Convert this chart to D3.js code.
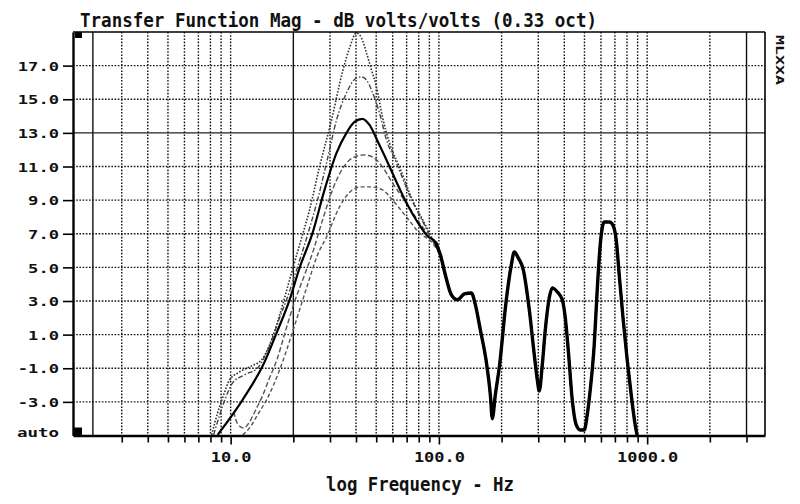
<!DOCTYPE html>
<html><head><meta charset="utf-8">
<script src="https://cdn.jsdelivr.net/npm/d3@7"></script>
<style>
html,body{margin:0;padding:0;background:#fff;}
svg{display:block;}
text{font-family:"DejaVu Sans Mono",monospace;font-weight:bold;fill:#111;}
</style></head>
<body>
<svg id="chart" width="800" height="504"></svg>
<script>
// ---------- data (frequency in Hz, magnitude in dB) ----------
const titleText = "Transfer Function Mag - dB volts/volts (0.33 oct)";
const xAxisTitle = "log Frequency - Hz";
const sideLabel = "MLXXA";
const dbTicks = [-3, -1, 1, 3, 5, 7, 9, 11, 13, 15, 17];
const freqTicks = [3,4,5,6,7,8,9,10,20,30,40,50,60,70,80,90,100,200,300,400,500,600,700,800,900,1000,2000,3000];
const freqLabels = [10, 100, 1000];
const solidFreqLines = [2.18, 20, 3000];
const solidDbLines = [13];

// series C : solid black (main response)
const seriesC_f  = [8.66,11.41,14.56,16.62,19.19,21.43,24.74,28.24,32.25,36.01,39.33,42.96,46.42,51.28,56.02,62.56,70.63,78.87,88.07,96.21,101.7,107.4,114.8,122.7,132.5,143.2,149.7,158.1,168.9,176.6,180.5,186.6,195.1,210.7,222.7,230.2,240.6,254.3,271.7,287.1,296.8,303.4,313.6,324.2,338.8,350.3,370.2,391.2,404.4,417.9,436.8,456.6,477.2,498.7,515.5,532.9,556.9,575.7,595.1,622.0,657.3,679.6,710.4,734.3,767.4,802.0,838.3,876.1,895.7];
const seriesC_db = [-4.96,-2.88,-0.62,1.10,3.07,4.97,7.05,9.61,11.81,13.00,13.65,13.83,13.47,12.40,11.39,10.08,8.72,7.70,6.87,6.52,5.74,4.55,3.36,3.07,3.42,3.48,2.77,1.28,-0.62,-2.58,-4.00,-2.58,-0.92,3.07,5.15,5.92,5.56,4.85,2.47,-0.20,-1.69,-2.35,-0.80,1.28,3.19,3.78,3.54,3.07,2.00,0.09,-2.88,-4.37,-4.67,-4.67,-3.77,-2.29,0.39,3.66,6.34,7.70,7.70,7.59,6.63,4.55,1.88,-0.50,-2.58,-4.37,-5.00];

// series A : dotted (highest peak)
const seriesA_f  = [8.11,8.66,9.26,9.89,11.04,12.61,14.08,15.38,16.62,17.76,19.19,21.43,23.93,26.72,30.51,34.45,37.22,40.21,42.49,44.90,47.46,50.15,53.58,57.88,64.65,74.63,87.12,101.7];
const seriesA_db = [-4.96,-3.65,-2.58,-1.69,-1.22,-0.86,-0.50,0.39,1.58,2.77,4.26,6.34,8.42,10.98,13.77,16.63,18.05,18.94,18.65,17.76,16.74,15.73,13.95,12.40,10.98,9.01,7.41,5.74];

// series B : dash-dot
const seriesB_f  = [8.29,8.86,9.46,10.22,11.67,13.47,14.72,16.08,17.18,18.56,20.73,23.40,26.13,28.87,32.25,36.01,40.21,42.49,44.90,47.46,51.83,56.01,62.54,72.20,85.21,101.7];
const seriesB_db = [-4.96,-3.77,-2.76,-1.87,-1.39,-0.98,-0.20,0.98,2.00,3.07,4.85,6.93,9.01,11.21,13.77,15.38,16.27,16.33,16.15,15.55,14.19,12.58,11.21,9.31,7.53,5.74];

// series D : dashed
const seriesD_f  = [10.34,10.80,11.54,12.33,13.18,14.08,15.38,16.80,18.16,20.27,22.64,25.00,27.62,32.25,37.22,40.66,43.92,47.98,53.58,59.84,69.84,80.62,93.07,101.7];
const seriesD_db = [-3.59,-4.31,-4.55,-4.19,-3.48,-2.76,-1.57,-0.38,1.04,2.95,4.55,6.04,7.82,10.20,11.39,11.63,11.69,11.57,10.98,10.02,8.83,7.65,6.63,5.74];

// series E : dashed (lowest peak)
const seriesE_f  = [11.42,12.33,13.47,15.05,17.18,19.62,21.43,23.40,26.13,28.87,33.33,38.47,42.49,46.42,53.58,59.84,69.84,80.62,92.05,101.7];
const seriesE_db = [-4.96,-4.55,-3.77,-2.76,-1.10,0.98,2.47,3.96,5.74,6.81,8.60,9.61,9.79,9.79,9.61,9.01,8.00,7.05,6.52,5.74];

// ---------- drawing ----------
const svg = d3.select("#chart");
const L = 73, R = 765, T = 32, B = 435.5;
const x = d3.scaleLog().domain([1.75, 3680]).range([L, R]);
const y = d3.scaleLinear().domain([-5, 19]).range([B, T]);

svg.append("rect").attr("width",800).attr("height",504).attr("fill","#fff");

svg.append("defs").append("clipPath").attr("id","clip")
  .append("rect").attr("x",L).attr("y",T-1).attr("width",R-L).attr("height",B-T+1);

// grid
const grid = svg.append("g");
grid.selectAll("line.h").data(dbTicks).join("line")
  .attr("x1",L).attr("x2",R).attr("y1",d=>y(d)).attr("y2",d=>y(d))
  .attr("stroke", d=> solidDbLines.includes(d) ? "#222" : "#111")
  .attr("stroke-width", d=> solidDbLines.includes(d) ? 1.1 : 1.4)
  .attr("stroke-dasharray", d=> solidDbLines.includes(d) ? null : "1.6,1.6");
grid.selectAll("line.v").data(freqTicks.filter(f=>!solidFreqLines.includes(f))).join("line")
  .attr("x1",d=>x(d)).attr("x2",d=>x(d)).attr("y1",T).attr("y2",B)
  .attr("stroke","#111").attr("stroke-width",1.4).attr("stroke-dasharray","1.6,1.6");
grid.selectAll("line.s").data(solidFreqLines).join("line")
  .attr("x1",d=>x(d)).attr("x2",d=>x(d)).attr("y1",T).attr("y2",B)
  .attr("stroke","#111").attr("stroke-width",1.4);

// curves
const line = d3.line().x(d=>x(d[0])).y(d=>y(d[1])).curve(d3.curveMonotoneX);
const zip = (fs, ds) => fs.map((f,i)=>[f, ds[i]]);
const curves = svg.append("g").attr("clip-path","url(#clip)");
const others = [
  {f:seriesE_f, d:seriesE_db, dash:"4,2.5", col:"#555", w:1.4},
  {f:seriesD_f, d:seriesD_db, dash:"5,2.5", col:"#555", w:1.4},
  {f:seriesB_f, d:seriesB_db, dash:"5,2,1.5,2", col:"#444", w:1.4},
  {f:seriesA_f, d:seriesA_db, dash:"1.6,1.6", col:"#333", w:1.6}
];
others.forEach(s=>{
  curves.append("path").datum(zip(s.f,s.d)).attr("d",line)
    .attr("fill","none").attr("stroke",s.col).attr("stroke-width",s.w)
    .attr("stroke-dasharray",s.dash);
});
const cData = zip(seriesC_f, seriesC_db);
curves.append("path").datum(cData).attr("d",line)
  .attr("fill","none").attr("stroke","#000").attr("stroke-width",2.2).attr("stroke-linejoin","round");
curves.append("path").datum(cData.filter(d=>d[0]>=96)).attr("d",line)
  .attr("fill","none").attr("stroke","#000").attr("stroke-width",3.4).attr("stroke-linejoin","round");

// frame
svg.append("line").attr("x1",L).attr("x2",R).attr("y1",T).attr("y2",T).attr("stroke","#000").attr("stroke-width",1.6);
svg.append("line").attr("x1",R).attr("x2",R).attr("y1",T).attr("y2",B).attr("stroke","#000").attr("stroke-width",1.6);

// x axis
const xAxis = d3.axisBottom(x).tickValues(freqTicks).tickSize(7).tickSizeOuter(0)
  .tickFormat(d => freqLabels.includes(d) ? d.toFixed(1) : "");
const gx = svg.append("g").attr("transform",`translate(0,${B})`).call(xAxis);
gx.select(".domain").attr("stroke","#000").attr("stroke-width",2.4);
gx.selectAll(".tick line").attr("stroke","#000").attr("stroke-width",1.6)
  .attr("y2", d => freqLabels.includes(d) ? 9 : 7);
gx.selectAll(".tick text").attr("y",26).attr("dy",null)
  .style("font-size","14px").attr("fill","#111")
  .each(function(d){ const t=this.textContent; if(t) d3.select(this).attr("textLength", t.length*10.2).attr("lengthAdjust","spacingAndGlyphs"); });

// y axis
const yAxis = d3.axisLeft(y).tickValues(dbTicks).tickSize(10).tickSizeOuter(0).tickFormat(d=>d.toFixed(1));
const gy = svg.append("g").attr("transform",`translate(${L},0)`).call(yAxis);
gy.select(".domain").attr("stroke","#000").attr("stroke-width",2.4);
gy.selectAll(".tick line").attr("stroke","#000").attr("stroke-width",1.6);
gy.selectAll(".tick text").attr("x",-14).attr("dy","0.36em")
  .style("font-size","13px").attr("fill","#111")
  .each(function(){ const t=this.textContent; d3.select(this).attr("textLength", t.length*10.3).attr("lengthAdjust","spacingAndGlyphs"); });
svg.append("text").attr("x",L-14).attr("y",y(-5)-3).attr("dy","0.36em").attr("text-anchor","end")
  .style("font-size","13px").attr("textLength",42).attr("lengthAdjust","spacingAndGlyphs").text("auto");

// black corner markers
svg.append("rect").attr("x",L+2).attr("y",T).attr("width",7).attr("height",6).attr("fill","#000");
svg.append("rect").attr("x",L).attr("y",B-8).attr("width",9).attr("height",8).attr("fill","#000");

// titles
svg.append("text").attr("x",80).attr("y",27).style("font-size","20px")
  .attr("textLength",517).attr("lengthAdjust","spacingAndGlyphs").text(titleText);
svg.append("text").attr("x",326).attr("y",491).style("font-size","19px")
  .attr("textLength",188).attr("lengthAdjust","spacingAndGlyphs").text(xAxisTitle);
svg.append("text").attr("transform","translate(776,35) rotate(90)").style("font-size","11px")
  .attr("textLength",50).attr("lengthAdjust","spacingAndGlyphs").text(sideLabel);
</script>
</body></html>
